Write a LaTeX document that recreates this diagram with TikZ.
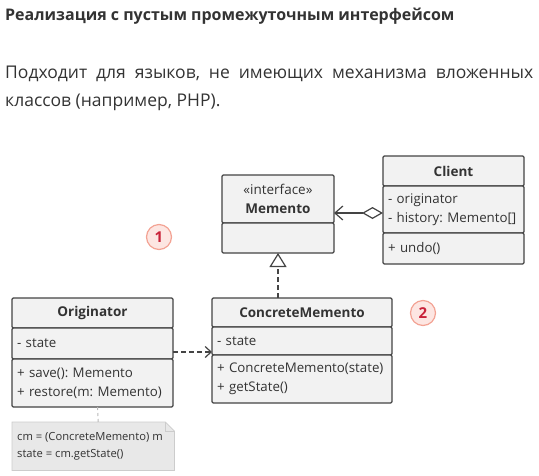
\documentclass[tikz,border=0pt]{standalone}
\usepackage{fontspec}
\setmainfont{Open Sans}
\usetikzlibrary{positioning,arrows.meta,calc}
\definecolor{cLine}{HTML}{444444}
\definecolor{cFill}{HTML}{F2F2F2}
\definecolor{cText}{HTML}{333333}
\definecolor{cNote}{HTML}{E8E8E8}
\definecolor{cNoteLine}{HTML}{CCCCCC}
\definecolor{cBadge}{HTML}{FDE6E2}
\definecolor{cBadgeLine}{HTML}{F3A394}
\definecolor{cBadgeText}{HTML}{C9233A}
\frenchspacing

\begin{document}
\begin{tikzpicture}[x=1pt, y=-1pt, font=\fontsize{13.3}{19}\selectfont, text=cText,
    umlpart/.style={draw=cLine, fill=cFill, line width=1.2pt, rounded corners=1.2pt,
      anchor=north west, inner sep=0pt, outer sep=0pt},
    umlhead/.style={umlpart, align=center, font=\fontsize{13.5}{19}\selectfont\bfseries},
    umlbody/.style={umlpart, align=left, text width=#1-10pt},
    badge/.style={circle, draw=cBadgeLine, fill=cBadge, line width=1.2pt, minimum size=25pt,
      inner sep=0pt, text=cBadgeText, font=\fontsize{15}{16}\selectfont\bfseries},
    conn/.style={draw=cLine, line width=1.2pt}]
  \useasboundingbox (0,0) rectangle (539,475);

  % heading and description
  \node[anchor=north west, inner sep=0pt, font=\fontsize{16}{20}\selectfont\bfseries] (title) at (5,8)
    {Реализация с пустым промежуточным интерфейсом};
  \node[anchor=north west, inner sep=0pt, align=left,
    font=\fontsize{17.5}{28}\selectfont] (descr) at (5,66)
    {\makebox[528pt][s]{Подходит для языков, не имеющих механизма вложенных}\\классов (например, PHP).};

  % Memento
  \node[umlhead, minimum width=112, minimum height=48] (mem-h) at (222,175)
    {{\mdseries «interface»}\\Memento};
  \node[umlpart, minimum width=112, minimum height=30] (mem-m) at (mem-h.south west) {};

  % Client
  \node[umlhead, minimum width=141, minimum height=30] (cli-h) at (383,156) {Client};
  \node[umlbody=141pt, minimum width=141, minimum height=47] (cli-a) at (cli-h.south west)
    {\mbox{- originator}\\\mbox{- history: Memento[]}};
  \node[umlbody=141pt, minimum width=141, minimum height=31] (cli-m) at (cli-a.south west)
    {+ undo()};

  % Originator
  \node[umlhead, minimum width=161, minimum height=30] (orig-h) at (12,298) {Originator};
  \node[umlbody=161pt, minimum width=161, minimum height=31] (orig-a) at (orig-h.south west)
    {- state};
  \node[umlbody=161pt, minimum width=161, minimum height=48] (orig-m) at (orig-a.south west)
    {\mbox{+ save(): Memento}\\\mbox{+ restore(m: Memento)}};

  % ConcreteMemento
  \node[umlhead, minimum width=180, minimum height=29] (cm-h) at (212,298) {ConcreteMemento};
  \node[umlbody=180pt, minimum width=180, minimum height=28] (cm-a) at (cm-h.south west)
    {- state};
  \node[umlbody=180pt, minimum width=180, minimum height=48] (cm-m) at (cm-a.south west)
    {\mbox{+ ConcreteMemento(state)}\\\mbox{+ getState()}};

  % note
  \node[anchor=north west, inner sep=0pt, minimum width=162, minimum height=48] (note) at (12,422) {};
  \filldraw[fill=cNote, draw=cNoteLine, line width=0.8pt]
    (note.north west) -- ([xshift=-9pt]note.north east) -- ([yshift=-9pt]note.north east)
    -- (note.south east) -- (note.south west) -- cycle;
  \draw[cNoteLine, line width=0.8pt] ([xshift=-9pt]note.north east) |- ([yshift=-9pt]note.north east);
  \node[anchor=west, inner sep=0pt, align=left, font=\fontsize{11.2}{17}\selectfont] (note-t)
    at ([xshift=5pt]note.west) {cm = (ConcreteMemento) m\\state = cm.getState()};

  % badges
  \node[badge] (b1) at (159,237) {1};
  \node[badge] (b2) at (423,313) {2};

  % connectors
  \draw[conn, {Diamond[open, fill=white, length=21pt, width=12pt]}-{Straight Barb[length=8pt, width=14pt]}]
    ([yshift=-3.5pt]cli-a.west) -- ([yshift=-3.5pt]cli-a.west -| mem-h.east);
  \draw[conn, dash pattern=on 5pt off 3pt, -{Triangle[open, fill=white, length=14pt, width=17pt]}]
    (cm-h.north -| mem-m.south) -- (mem-m.south);
  \draw[conn, dash pattern=on 5pt off 3pt, -{Straight Barb[length=6pt, width=11pt]}]
    ([yshift=-8.5pt]orig-a.east) -- ([yshift=-8.5pt]orig-a.east -| cm-a.west);
  \draw[draw=cNoteLine!90!black, line width=1pt, dash pattern=on 3pt off 3pt]
    ([xshift=5pt]orig-m.south) -- ([xshift=5pt]note.north);
\end{tikzpicture}
\end{document}
